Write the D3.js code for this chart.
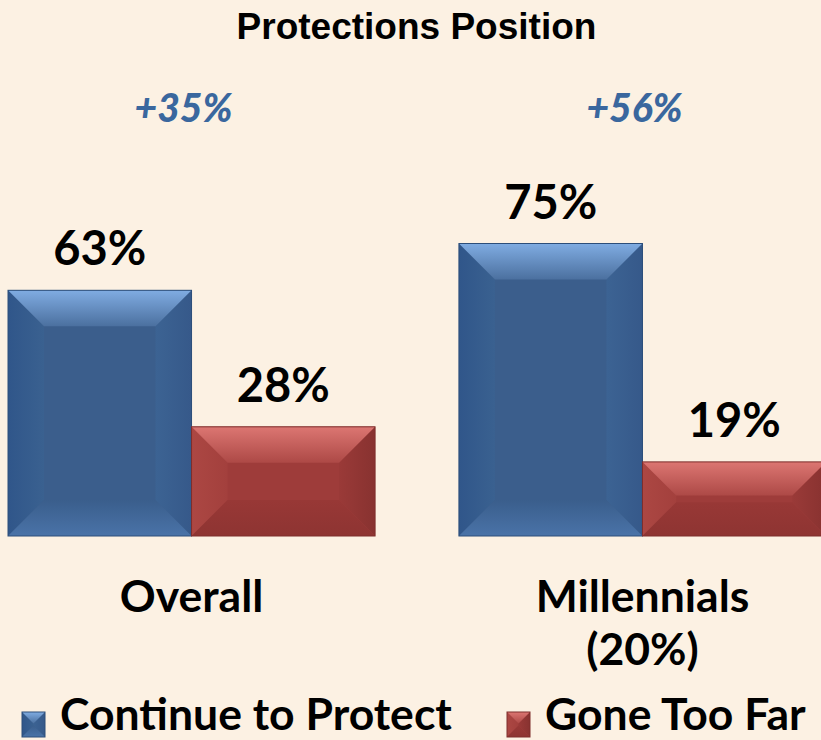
<!DOCTYPE html>
<html>
<head>
<meta charset="utf-8">
<script src="https://cdn.jsdelivr.net/npm/d3@7"></script>
<style>
    body { margin: 0; background: #fcf1e3; }
    svg { display: block; }
</style>
</head>
<body>
<div id="chart"></div>
<script>
// chart data
const groups = ["Overall", "Millennials"];
const groupLabels = [["Overall"], ["Millennials", "(20%)"]];
const seriesNames = ["Continue to Protect", "Gone Too Far"];
const protectValues = [63, 75];
const tooFarValues = [28, 19];
const gapLabels = ["+35%", "+56%"];

const width = 821, height = 740;
const baseline = 536;

// bevel colours for each series
const palettes = {
    blue: {
        center: "#3b5e8c", stroke: "#2c4e7a",
        top: ["#80ace2", "#4b709f"], bottom: ["#3a5e8c", "#4a73a8"],
        left: ["#30568a", "#3a6190"], right: ["#3c6393", "#36598a"]
    },
    red: {
        center: "#9e3c3a", stroke: "#7e2e2c",
        top: ["#dc7672", "#ad4946"], bottom: ["#983836", "#8e3432"],
        left: ["#ac4743", "#a3403d"], right: ["#9a3a38", "#883230"]
    }
};
const seriesColor = ["blue", "red"];

const svg = d3.select("#chart").append("svg")
    .attr("width", width)
    .attr("height", height)
    .style("font-family", "Lato, 'Open Sans', sans-serif");

svg.append("rect")
    .attr("width", width)
    .attr("height", height)
    .attr("fill", "#fcf1e3");

// gradients
let defs = svg.append("defs");
Object.keys(palettes).forEach(name => {
    let p = palettes[name];
    let dirs = { top: [0, 0, 0, 1], bottom: [0, 0, 0, 1], left: [0, 0, 1, 0], right: [0, 0, 1, 0] };
    Object.keys(dirs).forEach(side => {
        let g = defs.append("linearGradient")
            .attr("id", name + "-" + side)
            .attr("x1", dirs[side][0]).attr("y1", dirs[side][1])
            .attr("x2", dirs[side][2]).attr("y2", dirs[side][3]);
        g.append("stop").attr("offset", 0).attr("stop-color", p[side][0]);
        g.append("stop").attr("offset", 1).attr("stop-color", p[side][1]);
    });
});

// scales
const x0 = d3.scaleBand()
    .domain(groups)
    .range([8, 826])
    .paddingInner(0.186)
    .paddingOuter(0);

const x1 = d3.scaleBand()
    .domain(seriesNames)
    .range([0, x0.bandwidth()]);

const y = d3.scaleLinear()
    .domain([0, 100])
    .range([baseline, baseline - 390]);

// draws a bevelled box like the excel "cool slant" bars
function bevelBox(g, x, yTop, w, h, b, colorName) {
    let p = palettes[colorName];
    let pts = {
        top: [[x, yTop], [x + w, yTop], [x + w - b, yTop + b], [x + b, yTop + b]],
        bottom: [[x + b, yTop + h - b], [x + w - b, yTop + h - b], [x + w, yTop + h], [x, yTop + h]],
        left: [[x, yTop], [x + b, yTop + b], [x + b, yTop + h - b], [x, yTop + h]],
        right: [[x + w - b, yTop + b], [x + w, yTop], [x + w, yTop + h], [x + w - b, yTop + h - b]]
    };
    g.append("rect")
        .attr("x", x).attr("y", yTop)
        .attr("width", w).attr("height", h)
        .attr("fill", p.center);
    ["left", "right", "bottom", "top"].forEach(side => {
        g.append("polygon")
            .attr("points", pts[side].map(d => d.join(",")).join(" "))
            .attr("fill", "url(#" + colorName + "-" + side + ")");
    });
    g.append("rect")
        .attr("x", x).attr("y", yTop)
        .attr("width", w).attr("height", h)
        .attr("fill", "none")
        .attr("stroke", p.stroke)
        .attr("stroke-width", 1);
}

// title
svg.append("text")
    .attr("x", 416.5)
    .attr("y", 39)
    .attr("text-anchor", "middle")
    .style("font-family", "'Liberation Sans', Arial, sans-serif")
    .style("font-weight", "bold")
    .style("font-size", "37px")
    .text("Protections Position");

// bars
let barData = groups.map((grp, i) => ({
    group: grp,
    values: [protectValues[i], tooFarValues[i]]
}));

let barsGroup = svg.append("g");

barData.forEach(d => {
    d.values.forEach((v, j) => {
        let bx = x0(d.group) + x1(seriesNames[j]);
        let bw = x1.bandwidth();
        let top = y(v);
        let h = baseline - top;
        bevelBox(barsGroup, bx, top, bw, h, Math.min(36, h / 2.2), seriesColor[j]);

        svg.append("text")
            .attr("x", bx + bw / 2)
            .attr("y", top - 25)
            .attr("text-anchor", "middle")
            .style("font-weight", "bold")
            .style("font-size", "47px")
            .text(v + "%");
    });
});

// difference labels above each group
svg.selectAll(".gap-label")
    .data(groups)
    .enter()
    .append("text")
    .attr("class", "gap-label")
    .attr("x", d => x0(d) + x0.bandwidth() / 2 - 8)
    .attr("y", 122)
    .attr("text-anchor", "middle")
    .attr("fill", "#3a679e")
    .style("font-weight", "900")
    .style("font-style", "italic")
    .style("font-size", "39px")
    .text((d, i) => gapLabels[i]);

// category labels
groups.forEach((grp, i) => {
    let t = svg.append("text")
        .attr("x", x0(grp) + x0.bandwidth() / 2)
        .attr("y", 612)
        .attr("text-anchor", "middle")
        .style("font-weight", "bold")
        .style("font-size", "44.5px");
    groupLabels[i].forEach((line, k) => {
        t.append("tspan")
            .attr("x", x0(grp) + x0.bandwidth() / 2)
            .attr("dy", k === 0 ? 0 : 53)
            .text(line);
    });
});

// legend
let legendX = [22, 507];
let legend = svg.append("g");
seriesNames.forEach((name, i) => {
    bevelBox(legend, legendX[i], 712, 23, 25, 11.5, seriesColor[i]);
    legend.append("text")
        .attr("x", legendX[i] + 38)
        .attr("y", 730)
        .style("font-weight", "bold")
        .style("font-size", "44.5px")
        .text(name);
});
</script>
</body>
</html>
